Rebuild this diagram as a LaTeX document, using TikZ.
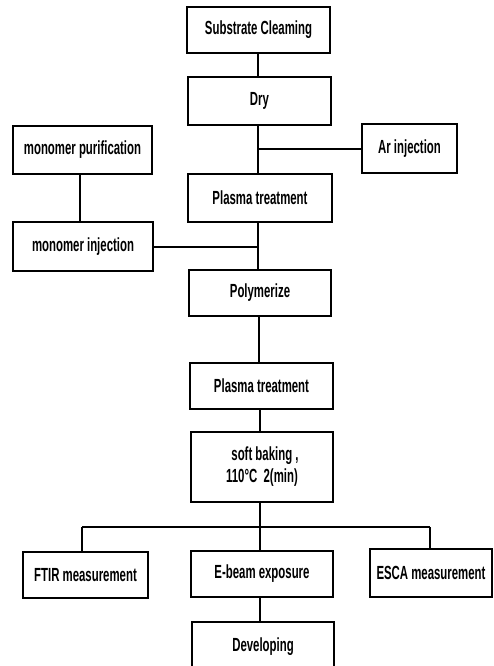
\documentclass[tikz,border=0pt]{standalone}
\usepackage{fontspec}
\newfontfamily\boxfont[FakeStretch=0.6]{Liberation Sans}
\begin{document}
\begin{tikzpicture}[x=1pt,y=-1pt,
  stepbox/.style={draw,line width=1.1pt,inner sep=0pt,align=center,
    font=\boxfont\bfseries\fontsize{19}{22}\selectfont},
  conn/.style={line width=1.1pt}]
\useasboundingbox (0,0) rectangle (494,666);
\clip (0,0) rectangle (494,666);
\fill[white] (0,0) rectangle (494,666);
\node[stepbox,minimum width=143pt,minimum height=46pt] (sub) at (258.5,30) {Substrate Cleaming};
\node[stepbox,minimum width=143pt,minimum height=48pt] (dry) at (259.5,101) {Dry};
\node[stepbox,minimum width=95pt,minimum height=49pt] (ar) at (409.5,148.5) {Ar injection};
\node[stepbox,minimum width=144pt,minimum height=48pt] (pl1) at (260,198) {Plasma treatment};
\node[stepbox,minimum width=139pt,minimum height=48pt] (mp) at (82.5,150) {monomer purification};
\node[stepbox,minimum width=140pt,minimum height=49pt] (mi) at (83,246.5) {monomer injection};
\node[stepbox,minimum width=142pt,minimum height=46pt] (poly) at (260,293) {Polymerize};
\node[stepbox,minimum width=143pt,minimum height=46pt] (pl2) at (261.5,386) {Plasma treatment};
\node[stepbox,minimum width=142pt,minimum height=70pt] (sb) at (262,467) {\hspace*{6pt}soft baking ,\\110°C\ \ 2(min)};
\node[stepbox,minimum width=125pt,minimum height=46pt] (ftir) at (85.5,575) {FTIR measurement};
\node[stepbox,minimum width=142pt,minimum height=46pt] (eb) at (262,574) {E-beam exposure};
\node[stepbox,minimum width=122pt,minimum height=48pt] (esca) at (431,573) {ESCA measurement};
\node[stepbox,minimum width=142pt,minimum height=50pt] (dev) at (263,647) {Developing};
% main chain
\coordinate (j1) at (258,149);
\coordinate (j2) at (258,247);
\coordinate (j3) at (260,527);
\coordinate (jl) at (82,527);
\coordinate (jr) at (430,527);
\draw[conn] (sub.south -| j1) -- (dry.north -| j1);
\draw[conn] (dry.south -| j1) -- (pl1.north -| j1);
\draw[conn] (j1) -- (ar.west |- j1);
\draw[conn] (pl1.south -| j2) -- (poly.north -| j2);
\draw[conn] (mi.east |- j2) -- (j2);
\draw[conn] (mp.south -| 80,0) -- (mi.north -| 80,0);
\draw[conn] (poly.south -| 259,0) -- (pl2.north -| 259,0);
\draw[conn] (pl2.south -| 260,0) -- (sb.north -| 260,0);
\draw[conn] (sb.south -| j3) -- (j3);
\draw[conn] (jl) -- (jr);
\draw[conn] (jl) -- (ftir.north -| jl);
\draw[conn] (j3) -- (eb.north -| j3);
\draw[conn] (jr) -- (esca.north -| jr);
\draw[conn] (eb.south -| j3) -- (dev.north -| j3);
\end{tikzpicture}
\end{document}
